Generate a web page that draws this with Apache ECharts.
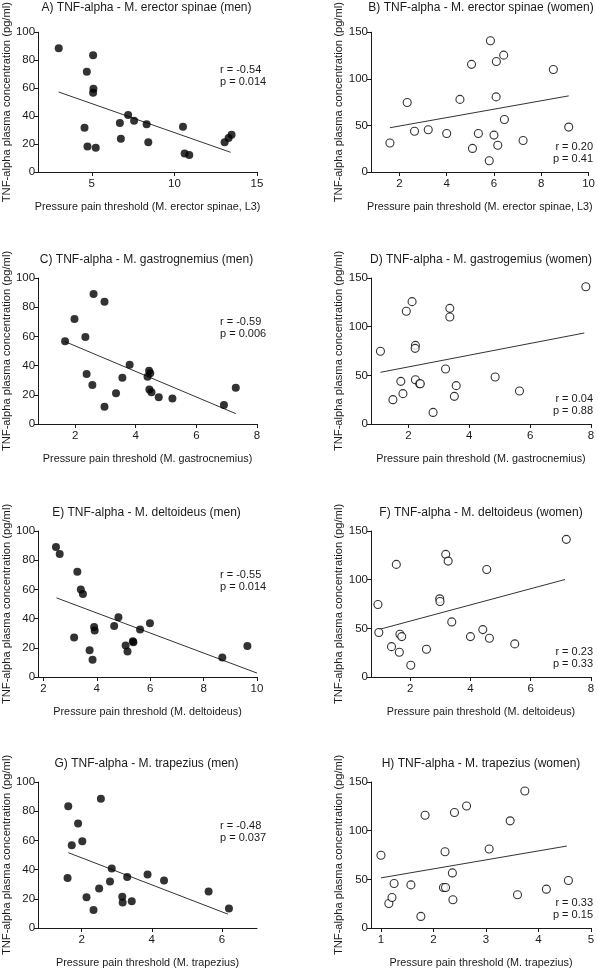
<!DOCTYPE html>
<html><head><meta charset="utf-8">
<script src="https://cdn.jsdelivr.net/npm/echarts@6/dist/echarts.min.js"></script>
<style>html,body{margin:0;padding:0;background:#fff}#c{width:598px;height:970px}</style>
</head><body><div id="c"></div>
<script>
// ---- data ----
const titles = [
  'A) TNF-alpha - M. erector spinae (men)',
  'B) TNF-alpha - M. erector spinae (women)',
  'C) TNF-alpha - M. gastrognemius (men)',
  'D) TNF-alpha - M. gastrogemius (women)',
  'E) TNF-alpha - M. deltoideus (men)',
  'F) TNF-alpha - M. deltoideus (women)',
  'G) TNF-alpha - M. trapezius (men)',
  'H) TNF-alpha - M. trapezius (women)'
];
const xNames = [
  'Pressure pain threshold (M. erector spinae, L3)',
  'Pressure pain threshold (M. erector spinae, L3)',
  'Pressure pain threshold (M. gastrocnemius)',
  'Pressure pain threshold (M. gastrocnemius)',
  'Pressure pain threshold (M. deltoideus)',
  'Pressure pain threshold (M. deltoideus)',
  'Pressure pain threshold (M. trapezius)',
  'Pressure pain threshold (M. trapezius)'
];
const yName = 'TNF-alpha plasma concentration (pg/ml)';

const xA = [3.0, 5.08, 4.7, 5.1, 5.08, 4.56, 4.74, 5.24, 7.2, 6.7, 7.56, 6.76, 8.32, 8.42, 10.52, 10.62, 10.9, 13.04, 13.28, 13.46];
const yA = [88.6, 83.6, 71.8, 59.5, 56.7, 31.7, 18.2, 17.3, 40.8, 35.1, 36.7, 23.7, 34.2, 21.2, 32.3, 13.2, 12.1, 21.2, 24.4, 26.7];
const fitA = [[3.0, 57.2], [13.4, 14.1]];
const statA = ['r = -0.54', 'p = 0.014'];

const xB = [1.6, 2.33, 2.64, 3.22, 4.0, 4.56, 5.05, 5.09, 5.34, 5.85, 5.8, 6.0, 6.1, 6.09, 6.16, 6.41, 6.44, 7.23, 8.51, 9.16];
const yB = [31.1, 74.5, 43.7, 45.4, 41.3, 77.9, 115.5, 25.3, 41.3, 140.8, 12.0, 39.6, 118.5, 80.6, 28.7, 125.4, 56.4, 33.8, 110.0, 48.2];
const fitB = [[1.6, 47.5], [9.16, 81.7]];
const statB = ['r = 0.20', 'p = 0.41'];

const xC = [1.67, 1.98, 2.34, 2.61, 2.38, 2.57, 2.97, 2.97, 3.35, 3.56, 3.8, 4.44, 4.48, 4.39, 4.45, 4.52, 4.76, 5.21, 6.91, 7.3];
const yC = [56.6, 71.9, 59.6, 89.0, 34.2, 26.7, 83.8, 11.9, 21.0, 31.7, 40.6, 36.5, 34.7, 32.4, 23.7, 21.7, 18.3, 17.4, 13.0, 24.9];
const fitC = [[1.67, 56.4], [7.3, 7.1]];
const statC = ['r = -0.59', 'p = 0.006'];

const xD = [1.08, 1.49, 1.75, 1.82, 1.93, 2.12, 2.23, 2.22, 2.23, 2.37, 2.39, 2.81, 3.22, 3.36, 3.36, 3.51, 3.57, 4.85, 5.65, 7.83];
const yD = [74.7, 25.0, 43.8, 31.2, 115.8, 125.7, 80.8, 77.7, 45.5, 41.4, 41.4, 11.9, 56.5, 118.8, 110.0, 28.4, 39.4, 48.3, 33.9, 141.0];
const fitD = [[1.08, 53.1], [7.78, 93.5]];
const statD = ['r = 0.04', 'p = 0.88'];

const xE = [2.47, 2.61, 3.27, 3.4, 3.48, 3.15, 3.73, 3.84, 3.9, 3.92, 4.65, 4.81, 5.08, 5.15, 5.37, 5.35, 5.62, 5.99, 8.7, 9.64];
const yE = [89.0, 84.2, 72.1, 60.0, 56.8, 27.0, 18.3, 11.9, 34.3, 31.8, 35.0, 41.0, 21.5, 17.4, 23.8, 24.5, 32.5, 36.8, 13.3, 21.3];
const fitE = [[2.49, 54.2], [10.0, 2.7]];
const statE = ['r = -0.55', 'p = 0.014'];

const xF = [0.93, 0.96, 1.38, 1.54, 1.64, 1.66, 1.72, 2.02, 2.54, 2.98, 2.99, 3.18, 3.26, 3.38, 4.0, 4.41, 4.54, 4.63, 5.47, 7.18];
const yF = [74.5, 45.7, 31.2, 115.7, 25.4, 43.9, 41.5, 12.0, 28.5, 80.3, 77.5, 126.0, 119.1, 56.6, 41.5, 48.7, 110.5, 39.8, 34.0, 141.4];
const fitF = [[0.95, 48.7], [7.14, 100.2]];
const statF = ['r = 0.23', 'p = 0.33'];

const xG = [1.62, 1.72, 1.9, 1.6, 2.02, 2.14, 2.34, 2.55, 2.5, 2.81, 2.86, 3.16, 3.17, 3.3, 3.43, 3.88, 4.35, 5.62, 6.2];
const yG = [83.4, 56.6, 71.6, 34.3, 59.5, 21.1, 12.3, 88.6, 27.0, 31.8, 40.7, 21.4, 17.5, 35.0, 18.4, 36.6, 32.5, 25.0, 13.4];
const fitG = [[1.62, 51.6], [6.17, 9.5]];
const statG = ['r = -0.48', 'p = 0.037'];

const xH = [1.0, 1.15, 1.21, 1.25, 1.57, 1.76, 1.84, 2.19, 2.23, 2.22, 2.36, 2.37, 2.4, 2.63, 3.06, 3.46, 3.6, 3.74, 4.15, 4.57];
const yH = [74.7, 25.2, 31.4, 45.7, 44.3, 11.9, 115.9, 41.6, 41.6, 78.4, 56.6, 29.0, 118.6, 125.4, 81.1, 110.1, 34.1, 140.8, 39.9, 48.8];
const fitH = [[1.0, 51.5], [4.54, 84.2]];
const statH = ['r = 0.33', 'p = 0.15'];

const xRanges = [[1.75, 15], [0.8, 10], [0.78, 8], [0.77, 8], [1.8, 10], [0.7, 8], [0.76, 7], [0.81, 5]];
const xTickVals = [[5, 10, 15], [2, 4, 6, 8, 10], [2, 4, 6, 8], [2, 4, 6, 8], [2, 4, 6, 8, 10], [2, 4, 6, 8], [2, 4, 6], [1, 2, 3, 4, 5]];
const yRanges = [[0, 100, 20], [0, 150, 50], [0, 100, 20], [0, 150, 50], [0, 100, 20], [0, 150, 50], [0, 100, 20], [0, 150, 50]];

const xs = [xA, xB, xC, xD, xE, xF, xG, xH];
const ys = [yA, yB, yC, yD, yE, yF, yG, yH];
const fits = [fitA, fitB, fitC, fitD, fitE, fitF, fitG, fitH];
const stats = [statA, statB, statC, statD, statE, statF, statG, statH];

// ---- layout ----
const FONT = 'Liberation Sans, Arial, sans-serif';
const colLeft = [36, 371], colWidth = [221, 220];
const rowTop = [26, 278, 531, 782], rowH = [146, 146, 146, 147];
const INK = '#1a1a1a';

const grid = [], xAxis = [], yAxis = [], series = [], graphic = [];
for (let i = 0; i < 8; i++) {
  const c = i % 2, r = Math.floor(i / 2);
  const L = colLeft[c], T = rowTop[r], W = colWidth[c], H = rowH[r];
  grid.push({left: L, top: T, width: W, height: H, containLabel: false});
  const axCommon = {
    axisLine: {show: true, lineStyle: {color: INK, width: 1}},
    splitLine: {show: false}
  };
  xAxis.push(Object.assign({}, axCommon, {
    type: 'value', gridIndex: i, min: xRanges[i][0], max: xRanges[i][1],
    name: xNames[i], nameLocation: 'middle', nameGap: 30,
    nameTextStyle: {color: INK, fontFamily: FONT, fontSize: 10.8},
    axisTick: {show: true, length: 4, lineStyle: {color: INK}, customValues: xTickVals[i]},
    axisLabel: {color: INK, fontFamily: FONT, fontSize: 11.5, margin: 6, customValues: xTickVals[i]}
  }));
  yAxis.push(Object.assign({}, axCommon, {
    type: 'value', gridIndex: i, min: yRanges[i][0], max: yRanges[i][1], interval: yRanges[i][2],
    name: yName, nameLocation: 'middle', nameGap: c === 0 ? 22 : 24,
    nameTextStyle: {color: INK, fontFamily: FONT, fontSize: 11.2},
    axisTick: {show: true, length: 4, lineStyle: {color: INK}},
    axisLabel: {color: INK, fontFamily: FONT, fontSize: 11.5, margin: 3}
  }));
  const filled = (c === 0);
  series.push({
    type: 'scatter', xAxisIndex: i, yAxisIndex: i,
    data: xs[i].map((v, k) => [v, ys[i][k]]),
    symbol: 'circle', symbolSize: 8,
    itemStyle: filled ? {color: '#000'} : {color: '#fff', borderColor: '#000', borderWidth: 1.1},
    silent: true, z: 3
  });
  series.push({
    type: 'line', xAxisIndex: i, yAxisIndex: i, data: fits[i],
    symbol: 'none', lineStyle: {color: '#333', width: 1}, silent: true, z: 2
  });
  // titles
  graphic.push({type: 'text', x: L + W / 2, y: T - 18,
    style: {text: titles[i], font: '12px ' + FONT, fill: INK, align: 'center', verticalAlign: 'middle'}});
  // stats
  if (c === 0) {
    graphic.push({type: 'text', x: 220, y: T + 43.5, style: {text: stats[i][0], font: '11px ' + FONT, fill: INK, align: 'left', verticalAlign: 'middle'}});
    graphic.push({type: 'text', x: 220, y: T + 55.5, style: {text: stats[i][1], font: '11px ' + FONT, fill: INK, align: 'left', verticalAlign: 'middle'}});
  } else {
    graphic.push({type: 'text', x: 593, y: T + 121, style: {text: stats[i][0], font: '11px ' + FONT, fill: INK, align: 'right', verticalAlign: 'middle'}});
    graphic.push({type: 'text', x: 593, y: T + 133, style: {text: stats[i][1], font: '11px ' + FONT, fill: INK, align: 'right', verticalAlign: 'middle'}});
  }
}

const chart = echarts.init(document.getElementById('c'), null, {renderer: 'canvas'});
chart.setOption({animation: false, backgroundColor: '#fff', grid, xAxis, yAxis, series, graphic});
</script>
</body></html>
